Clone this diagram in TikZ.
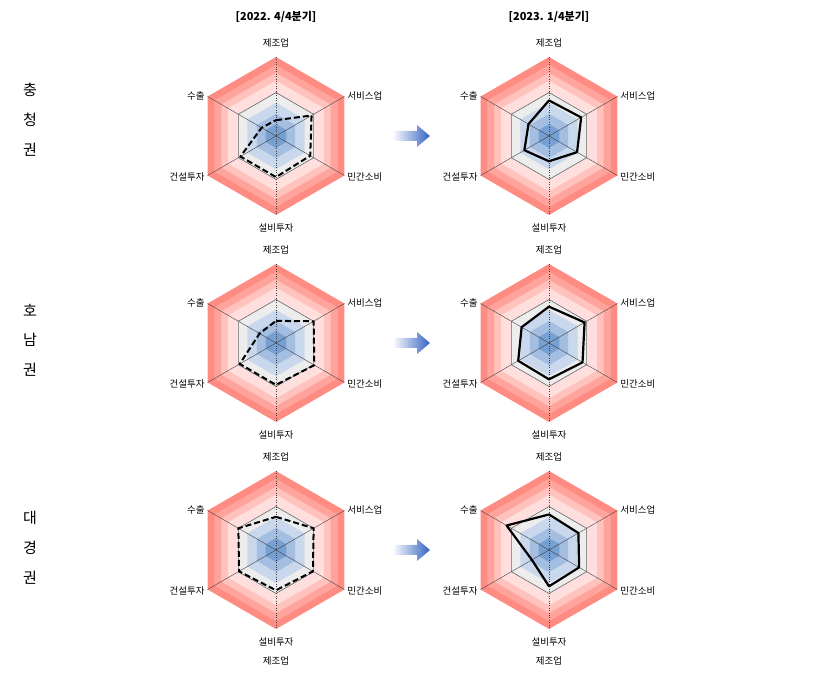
\documentclass[tikz,border=0pt]{standalone}
\usepackage{fontspec}
\newfontfamily\kr{Noto Sans CJK KR}
\definecolor{redA}{HTML}{FF8C82}
\definecolor{redB}{HTML}{FFA49C}
\definecolor{redC}{HTML}{FFC2BD}
\definecolor{redD}{HTML}{FFDFDD}
\definecolor{grayE}{HTML}{EDEDED}
\definecolor{blueA}{HTML}{C9D8EC}
\definecolor{blueB}{HTML}{A3BEE0}
\definecolor{blueC}{HTML}{769FD2}
\definecolor{arrowblue}{HTML}{3563C2}
\tikzset{
  axislbl/.style={font=\kr\fontsize{9.5}{10}\selectfont,inner sep=1pt},
  sidelbl/.style={font=\kr\fontsize{15}{16}\selectfont},
  titlelbl/.style={font=\kr\bfseries\fontsize{11}{12}\selectfont},
  before/.style={line width=2pt,dash pattern=on 6pt off 3pt},
  after/.style={line width=2.2pt},
  fadearrow/.style={left color=arrowblue!5,right color=arrowblue,draw=none}
}
\def\rad{79}
% hexagon with radius #1 (fraction of \rad)
\def\hexa#1{(90:{#1*\rad}) -- (30:{#1*\rad}) -- (-30:{#1*\rad}) -- (-90:{#1*\rad}) -- (-150:{#1*\rad}) -- (150:{#1*\rad}) -- cycle}
% background of one chart
\newcommand{\radarbg}{%
  \fill[redA] \hexa{1.0};
  \fill[redB] \hexa{0.9};
  \fill[redC] \hexa{0.8};
  \fill[redD] \hexa{0.7};
  \fill[grayE,draw=gray!80!black,line width=0.6pt] \hexa{0.55};
  \fill[blueA] \hexa{0.42};
  \fill[blueB] \hexa{0.28};
  \fill[blueC] \hexa{0.15};
  \foreach \a in {30,-30,-150,150}
    \draw[line width=0.4pt,black!75] (0,0) -- (\a:\rad);
  \draw[line width=0.4pt,black!75,dotted] (90:\rad) -- (-90:\rad);
  \node[axislbl] (top) at (0,93) {제조업};
  \node[axislbl,anchor=west] (ur) at (30:81) {서비스업};
  \node[axislbl,anchor=west] (lr) at (-30:81) {민간소비};
  \node[axislbl] (bot) at (0,-92) {설비투자};
  \node[axislbl,anchor=east] (ll) at (-150:81) {건설투자};
  \node[axislbl,anchor=east] (ul) at (150:81) {수출};
}
% data polygon: style, then six values clockwise from top
\newcommand{\radarplot}[7]{%
  \draw[#1,line join=round] (90:{#2*\rad}) -- (30:{#3*\rad}) -- (-30:{#4*\rad})
    -- (-90:{#5*\rad}) -- (-150:{#6*\rad}) -- (150:{#7*\rad}) -- cycle;
}
% block arrow centred at (#1,#2)
\newcommand{\blockarrow}[2]{%
  \shade[fadearrow] (#1-18,#2-5) -- (#1+5,#2-5) -- (#1+5,#2-11) -- (#1+18,#2)
    -- (#1+5,#2+11) -- (#1+5,#2+5) -- (#1-18,#2+5) -- cycle;
}
\begin{document}
\begin{tikzpicture}[x=1pt,y=1pt]
\useasboundingbox (0,0) rectangle (830,675);

\node[titlelbl] (t1) at (276,658) {[2022. 4/4분기]};
\node[titlelbl] (t2) at (549,658) {[2023. 1/4분기]};

% row 1
\begin{scope}[shift={(276,539)}]
  \radarbg
  \radarplot{before}{0.2}{0.52}{0.5}{0.52}{0.52}{0.21}
\end{scope}
\begin{scope}[shift={(549,539)}]
  \radarbg
  \radarplot{after}{0.45}{0.47}{0.41}{0.32}{0.36}{0.3}
\end{scope}
% row 2
\begin{scope}[shift={(276,332)}]
  \radarbg
  \radarplot{before}{0.28}{0.55}{0.56}{0.53}{0.53}{0.24}
\end{scope}
\begin{scope}[shift={(549,332)}]
  \radarbg
  \radarplot{after}{0.46}{0.52}{0.49}{0.46}{0.45}{0.4}
\end{scope}
% row 3
\begin{scope}[shift={(276,125)}]
  \radarbg
  \radarplot{before}{0.42}{0.55}{0.54}{0.51}{0.54}{0.55}
\end{scope}
\begin{scope}[shift={(549,125)}]
  \radarbg
  \radarplot{after}{0.45}{0.43}{0.44}{0.46}{0.25}{0.62}
\end{scope}

\node[axislbl] (c1) at (276,14) {제조업};
\node[axislbl] (c2) at (549,14) {제조업};

% arrows
\blockarrow{412}{539}
\blockarrow{412}{332}
\blockarrow{412}{125}

% region names
\node[sidelbl] (r1) at (30,585) {충};
\node[sidelbl] (r1b) at (30,555) {청};
\node[sidelbl] (r1c) at (30,525) {권};
\node[sidelbl] (r2) at (30,365) {호};
\node[sidelbl] (r2b) at (30,335) {남};
\node[sidelbl] (r2c) at (30,305) {권};
\node[sidelbl] (r3) at (30,157) {대};
\node[sidelbl] (r3b) at (30,127) {경};
\node[sidelbl] (r3c) at (30,97) {권};
\end{tikzpicture}
\end{document}
